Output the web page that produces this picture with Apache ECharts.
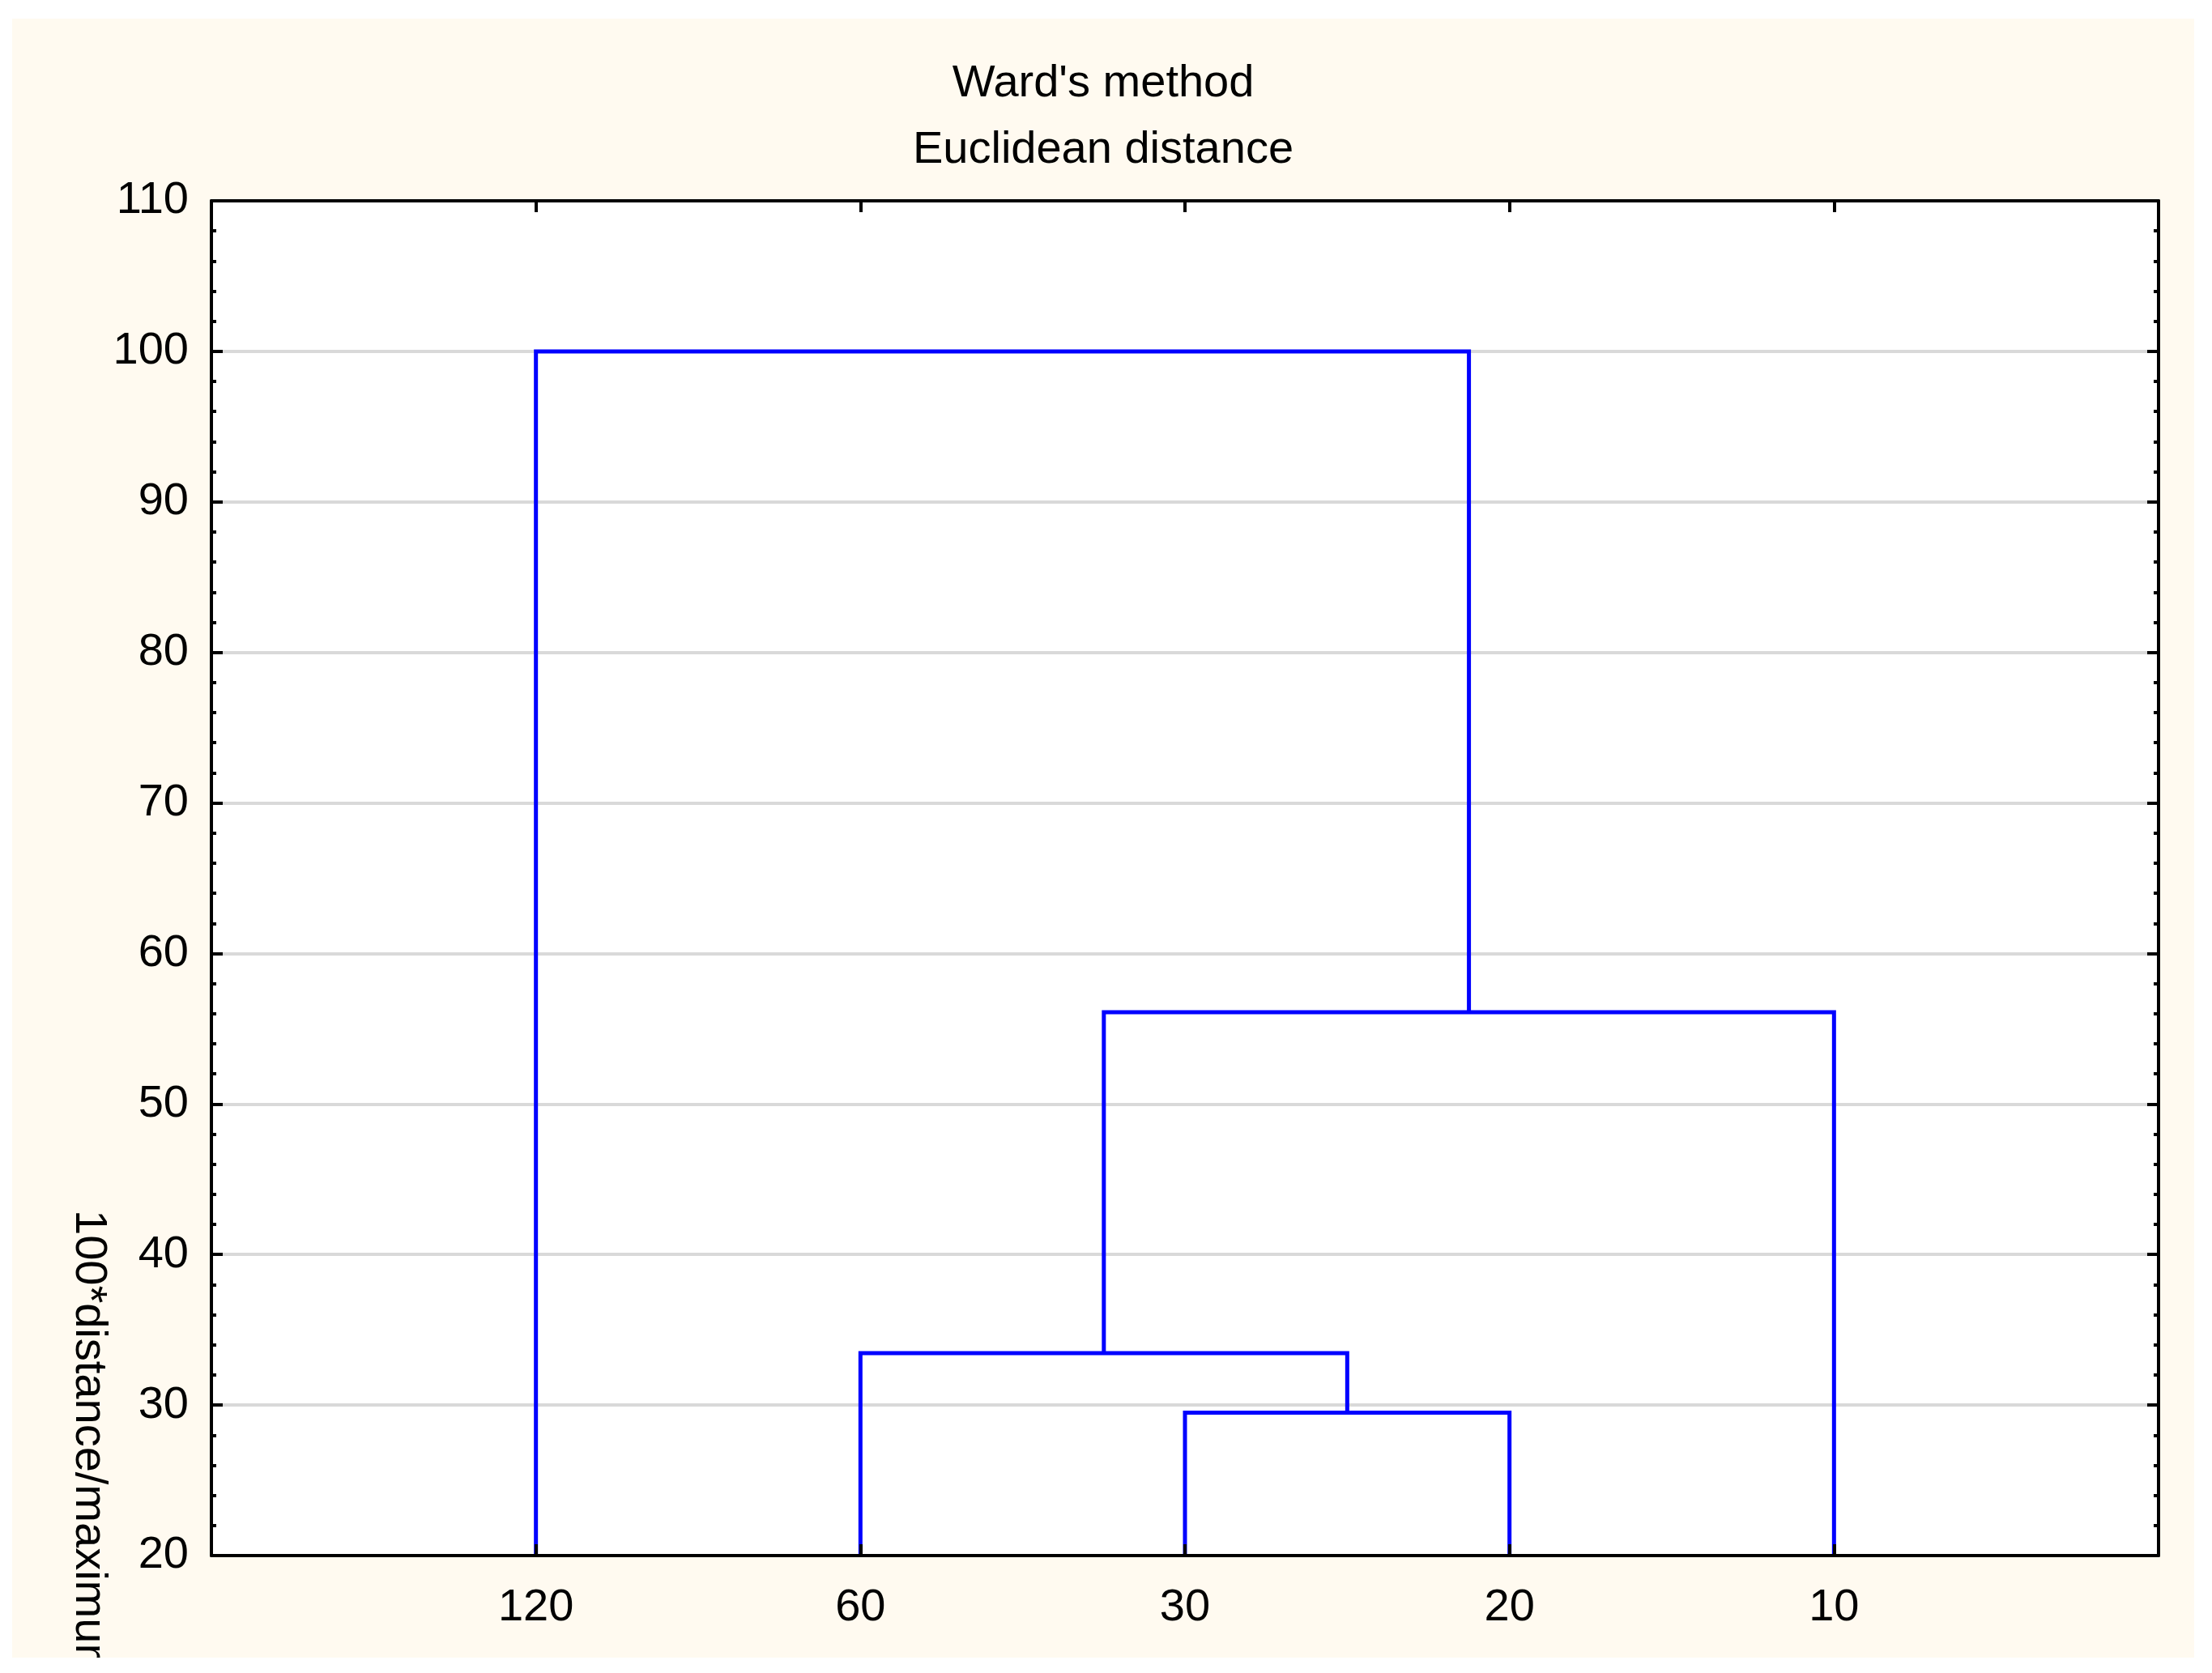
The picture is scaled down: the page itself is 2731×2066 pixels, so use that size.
<!DOCTYPE html>
<html>
<head>
<meta charset="utf-8">
<script src="https://cdn.jsdelivr.net/npm/echarts@6/dist/echarts.min.js"></script>
<style>
  html, body { margin: 0; padding: 0; background: #ffffff; width: 2731px; height: 2066px; overflow: hidden; }
  #chart { position: absolute; left: 15px; top: 23px; width: 2694px; height: 2024px; background: #fffaf0; }
</style>
</head>
<body>
<div id="chart"></div>
<script>
// ---- data ----
const titleLines = ["Ward's method", "Euclidean distance"];
const yAxisTitle = "100*distance/maximum distance";
const leafLabels = ['120', '60', '30', '20', '10'];        // leaf order along the x axis
const mergeLeft  = [2, 1, 6, 0];                            // cluster ids (0-4 = leaves, 5+ = merges)
const mergeRight = [3, 5, 4, 7];
const mergeHeight = [29.5, 33.45, 56.1, 100];               // linkage distance (100*d/dmax)
const yMin = 20, yMax = 110, yStep = 10;

// ---- build dendrogram segments ----
const clusterX = leafLabels.map((_, i) => i + 1);
const clusterH = leafLabels.map(() => yMin);
const series = [];
mergeHeight.forEach((h, i) => {
  const l = mergeLeft[i], r = mergeRight[i];
  series.push({
    type: 'line',
    xAxisIndex: 0, yAxisIndex: 0,
    data: [[clusterX[l], clusterH[l]], [clusterX[l], h], [clusterX[r], h], [clusterX[r], clusterH[r]]],
    symbol: 'none',
    lineStyle: { color: '#0000ff', width: 5, join: 'miter', cap: 'butt' },
    z: 2,
    animation: false
  });
  clusterX.push((clusterX[l] + clusterX[r]) / 2);
  clusterH.push(h);
});

const FONT = "'Liberation Sans', Arial, sans-serif";
const tickVals = leafLabels.map((_, i) => i + 1);
const axisLineStyle = { color: '#000', width: 4 };

const chart = echarts.init(document.getElementById('chart'), null, { renderer: 'canvas' });
chart.setOption({
  backgroundColor: '#fffaf0',
  animation: false,
  title: {
    text: titleLines.join('\n'),
    left: 'center',
    top: 40,
    padding: 0,
    textStyle: { fontFamily: FONT, fontSize: 56, fontWeight: 'normal', color: '#000', lineHeight: 82 }
  },
  grid: {
    left: 246, top: 225, right: 44, bottom: 126,
    show: true, backgroundColor: '#ffffff', borderWidth: 0
  },
  xAxis: [
    {
      type: 'value', position: 'bottom', min: 0, max: 6, interval: 1, z: 3,
      axisLine: { show: true, onZero: false, lineStyle: axisLineStyle },
      axisTick: { show: true, inside: true, length: 14, customValues: tickVals, lineStyle: { color: '#000', width: 4 } },
      axisLabel: { show: true, customValues: tickVals, margin: 37, fontFamily: FONT, fontSize: 56, color: '#000',
                   formatter: v => leafLabels[Math.round(v) - 1] || '' },
      splitLine: { show: false }
    },
    {
      type: 'value', position: 'top', min: 0, max: 6, interval: 1, z: 3,
      axisLine: { show: true, onZero: false, lineStyle: axisLineStyle },
      axisTick: { show: true, inside: true, length: 14, customValues: tickVals, lineStyle: { color: '#000', width: 4 } },
      axisLabel: { show: false },
      splitLine: { show: false }
    }
  ],
  yAxis: [
    {
      type: 'value', position: 'left', min: yMin, max: yMax, interval: yStep, z: 1,
      axisLine: { show: true, onZero: false, lineStyle: axisLineStyle },
      axisTick: { show: true, inside: true, length: 14, lineStyle: { color: '#000', width: 4 } },
      minorTick: { show: true, splitNumber: 5, length: 6, lineStyle: { color: '#000', width: 4 } },
      axisLabel: { show: true, margin: 28, fontFamily: FONT, fontSize: 56, color: '#000' },
      splitLine: { show: true, lineStyle: { color: '#d9d9d9', width: 4 } }
    },
    {
      type: 'value', position: 'right', min: yMin, max: yMax, interval: yStep, z: 3,
      axisLine: { show: true, onZero: false, lineStyle: axisLineStyle },
      axisTick: { show: true, inside: true, length: 14, lineStyle: { color: '#000', width: 4 } },
      minorTick: { show: true, splitNumber: 5, length: 6, lineStyle: { color: '#000', width: 4 } },
      axisLabel: { show: false },
      splitLine: { show: false }
    }
  ],
  graphic: [
    {
      type: 'text',
      x: 94, y: 1471,
      rotation: -Math.PI / 2,
      style: { text: yAxisTitle, fontFamily: FONT, fontSize: 56, fill: '#000', align: 'left', verticalAlign: 'middle' }
    }
  ],
  series: series
});
</script>
</body>
</html>
